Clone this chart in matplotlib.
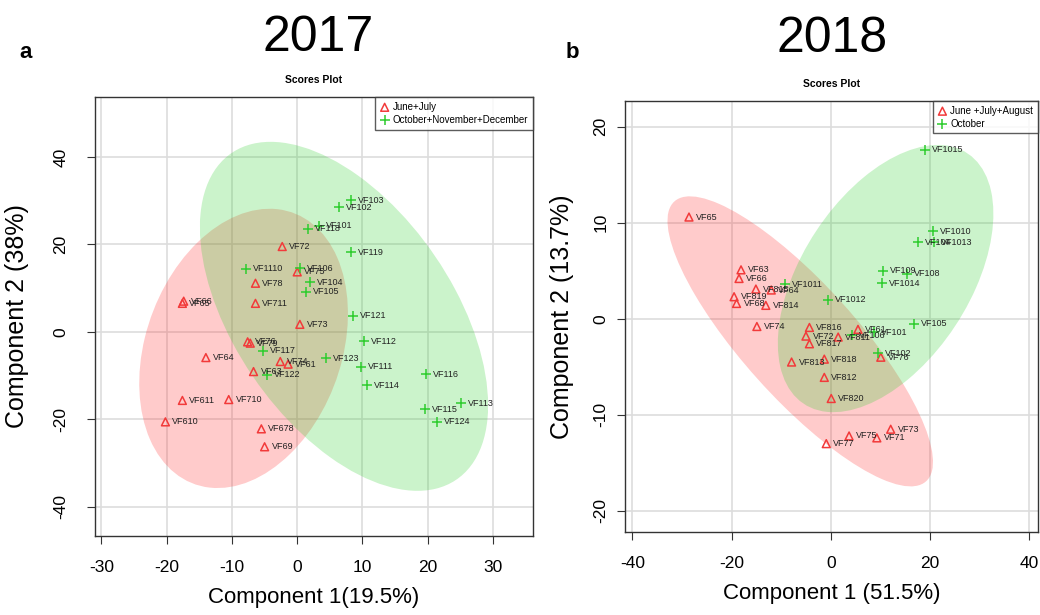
import numpy as np
import matplotlib
matplotlib.use("Agg")
import matplotlib.pyplot as plt
from matplotlib.patches import Ellipse

plt.rcParams['font.family'] = ['Liberation Sans', 'DejaVu Sans']
plt.rcParams['axes.unicode_minus'] = False

# 2017 - June+July
summer17_names = ["VF72", "VF75", "VF78", "VF711", "VF73", "VF66", "VF65", "VF76", "VF79",
                  "VF64", "VF74", "VF61", "VF63", "VF611", "VF710", "VF610", "VF678", "VF69"]
summer17_x = [-2.3, 0.0, -6.4, -6.4, 0.4, -17.4, -17.6, -7.6, -7.2,
              -14.0, -2.6, -1.4, -6.7, -17.6, -10.5, -20.2, -5.5, -5.0]
summer17_y = [19.5, 13.7, 11.1, 6.5, 1.7, 7.0, 6.5, -2.3, -2.6,
              -5.9, -6.8, -7.4, -9.1, -15.7, -15.5, -20.6, -22.2, -26.3]

# 2017 - October+November+December
autumn17_names = ["VF103", "VF102", "VF101", "VF118", "VF119", "VF1110", "VF106", "VF104", "VF105",
                  "VF121", "VF117", "VF123", "VF122", "VF112", "VF111", "VF114", "VF116", "VF113",
                  "VF115", "VF124"]
autumn17_x = [8.3, 6.4, 3.4, 1.6, 8.2, -7.8, 0.4, 2.0, 1.3,
              8.5, -5.3, 4.4, -4.6, 10.2, 9.8, 10.7, 19.7, 25.1, 19.6, 21.4]
autumn17_y = [30.1, 28.5, 24.2, 23.6, 18.2, 14.4, 14.5, 11.3, 9.1,
              3.7, -4.3, -6.1, -9.8, -2.2, -8.0, -12.2, -9.7, -16.3, -17.7, -20.6]

# 2018 - June+July+August
summer18_names = ["VF65", "VF63", "VF66", "VF815", "VF64", "VF819", "VF68", "VF814", "VF74",
                  "VF816", "VF72", "VF817", "VF811", "VF61", "VF76", "VF813", "VF818", "VF812",
                  "VF820", "VF73", "VF75", "VF71", "VF77"]
summer18_x = [-28.6, -18.1, -18.5, -15.1, -12.0, -19.5, -19.0, -13.1, -14.9,
              -4.3, -5.0, -4.3, 1.5, 5.5, 10.1, -7.9, -1.3, -1.3,
              0.1, 12.1, 3.7, 9.3, -0.9]
summer18_y = [10.6, 5.1, 4.2, 3.1, 3.0, 2.3, 1.6, 1.4, -0.8,
              -0.9, -1.8, -2.6, -1.9, -1.1, -4.0, -4.5, -4.2, -6.1,
              -8.3, -11.5, -12.2, -12.4, -13.0]

# 2018 - October
october18_names = ["VF1011", "VF1012", "VF106", "VF101", "VF105", "VF102", "VF1015", "VF1010",
                   "VF104", "VF1013", "VF109", "VF108", "VF1014"]
october18_x = [-9.3, -0.5, 4.3, 8.8, 16.7, 9.6, 19.1, 20.7, 17.6, 20.8, 10.5, 15.3, 10.3]
october18_y = [3.6, 2.0, -1.7, -1.4, -0.5, -3.6, 17.6, 9.1, 8.0, 8.0, 5.0, 4.7, 3.7]

RED = "#F23A3A"
GREEN = "#2ECC2E"


def conf_ellipse(ax, x, y, color, alpha):
    # 95% confidence ellipse of the group scores
    x = np.asarray(x)
    y = np.asarray(y)
    cov = np.cov(x, y)
    vals, vecs = np.linalg.eigh(cov)
    k = np.sqrt(5.991)
    angle = np.degrees(np.arctan2(vecs[1, 1], vecs[0, 1]))
    ell = Ellipse((x.mean(), y.mean()), 2 * k * np.sqrt(vals[1]), 2 * k * np.sqrt(vals[0]),
                  angle=angle, facecolor=color, edgecolor="none", alpha=alpha, zorder=1)
    ax.add_patch(ell)


def scores_panel(ax, groups, xlim, ylim, xticks, yticks, xlabel, ylabel, ypad, ylabpad):
    for x, y, names, color, marker, lab, ecol in groups:
        conf_ellipse(ax, x, y, ecol, 0.25)
    for x, y, names, color, marker, lab, ecol in groups:
        if marker == "^":
            ax.scatter(x, y, marker="^", s=32, facecolors="none", edgecolors=color,
                       linewidths=1.1, zorder=3, label=lab)
        else:
            ax.scatter(x, y, marker="+", s=50, color=color, linewidths=1.1, zorder=3, label=lab)
        for xi, yi, n in zip(x, y, names):
            ax.annotate(n, (xi, yi), xytext=(5, 0), textcoords="offset points",
                        fontsize=6.5, va="center", ha="left", color="#222222", zorder=4)
    ax.set_xlim(*xlim)
    ax.set_ylim(*ylim)
    ax.set_xticks(xticks)
    ax.set_yticks(yticks)
    ax.grid(True, color="#dddddd", linewidth=1.2, zorder=0)
    ax.set_axisbelow(True)
    for side in ["top", "right", "left", "bottom"]:
        ax.spines[side].set_color("#333333")
        ax.spines[side].set_linewidth(1.0)
    ax.tick_params(axis="both", labelsize=12.5, length=6, color="#333333")
    ax.tick_params(axis="x", pad=11)
    ax.tick_params(axis="y", pad=ypad)
    plt.setp(ax.get_yticklabels(), rotation=90, va="center")
    ax.set_xlabel(xlabel, fontsize=16, labelpad=9)
    ax.set_ylabel(ylabel, fontsize=18, labelpad=ylabpad)
    ax.set_title("Scores Plot", fontsize=7.5, fontweight="bold", pad=10)
    leg = ax.legend(loc="upper right", fontsize=7, frameon=True, fancybox=False,
                    borderaxespad=0.0, handletextpad=0.3, handlelength=1.0,
                    borderpad=0.5, labelspacing=0.3, scatterpoints=1)
    leg.get_frame().set_edgecolor("#333333")
    leg.get_frame().set_linewidth(1.0)


fig = plt.figure(figsize=(10.4, 6.15), dpi=100)
ax1 = fig.add_axes([0.0913, 0.1285, 0.421, 0.7138])
ax2 = fig.add_axes([0.601, 0.135, 0.397, 0.701])

scores_panel(ax1,
             [(summer17_x, summer17_y, summer17_names, RED, "^", "June+July", "#FF3030"),
              (autumn17_x, autumn17_y, autumn17_names, GREEN, "+", "October+November+December", "#30D030")],
             (-31.0, 36.1), (-46.7, 53.7), [-30, -20, -10, 0, 10, 20, 30], [-40, -20, 0, 20, 40],
             "Component 1(19.5%)", "Component 2 (38%)", 13, 18)

scores_panel(ax2,
             [(summer18_x, summer18_y, summer18_names, RED, "^", "June +July+August", "#FF3030"),
              (october18_x, october18_y, october18_names, GREEN, "+", "October", "#30D030")],
             (-41.5, 41.8), (-22.2, 22.7), [-40, -20, 0, 20, 40], [-20, -10, 0, 10, 20],
             "Component 1 (51.5%)", "Component 2 (13.7%)", 6, 14)

fig.text(0.306, 0.938, "2017", fontsize=36, ha="center", va="center")
fig.text(0.800, 0.936, "2018", fontsize=36, ha="center", va="center")
fig.text(0.019, 0.915, "a", fontsize=16, fontweight="bold", ha="left", va="center")
fig.text(0.544, 0.915, "b", fontsize=16, fontweight="bold", ha="left", va="center")

fig.savefig("out.png", dpi=100)
